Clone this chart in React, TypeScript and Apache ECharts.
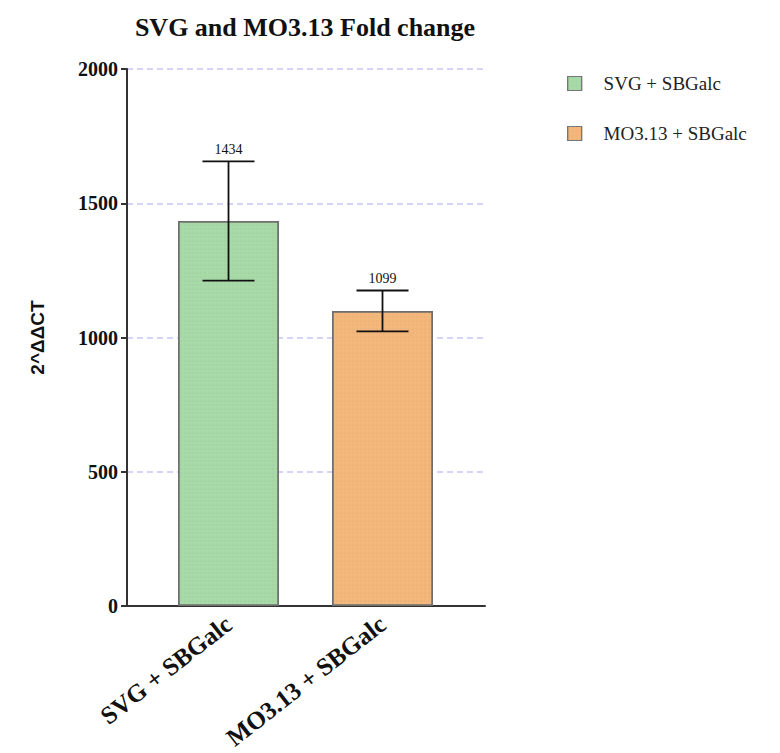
import React, { useEffect, useRef } from "react";
import * as echarts from "echarts";

const categories = ["SVG + SBGalc", "MO3.13 + SBGalc"];
const means = [1434, 1099];
const errors = [222, 76];
const barColors = ["#a8daa8", "#f3b77b"];
const yTicks = { min: 0, max: 2000, interval: 500 };
const titleText = "SVG and MO3.13 Fold change";
const yName = "2^ΔΔCT";

const SERIF = "'Liberation Serif', 'Times New Roman', serif";
const SANS = "'Liberation Sans', Arial, sans-serif";

export default function App() {
  const ref = useRef<HTMLDivElement>(null);
  useEffect(() => {
    document.body.style.margin = "0";
    const chart = echarts.init(ref.current!, null, { renderer: "svg" });
    const gridTop = 69;
    const gridHeight = 537;
    const barSeries = categories.map((name, i) => ({
      type: "bar",
      name,
      xAxisIndex: 1,
      yAxisIndex: 1,
      barWidth: 101,
      barGap: "-100%",
      data: means.map((v, j) => (j === i ? v : "-")),
      itemStyle: {
        color: barColors[i],
        borderColor: "#6f6f6f",
        borderWidth: 1.5,
        decal: {
          symbol: "circle",
          symbolSize: 0.6,
          dashArrayX: [[2, 2]],
          dashArrayY: [2, 2],
          color: "rgba(90,90,90,0.15)",
        },
      },
      z: 2,
    }));
    chart.setOption({
      animation: false,
      backgroundColor: "#ffffff",
      graphic: [
        {
          type: "text",
          x: 305,
          y: 27,
          style: {
            text: titleText,
            align: "center",
            verticalAlign: "middle",
            fontFamily: SERIF,
            fontWeight: "bold",
            fontSize: 26,
            fill: "#111",
          },
        },
      ],
      legend: {
        orient: "vertical",
        left: 562,
        top: 69,
        itemWidth: 14,
        itemHeight: 14,
        itemGap: 31,
        icon: "rect",
        data: categories,
        itemStyle: { borderColor: "#777", borderWidth: 1.2 },
        textStyle: { fontFamily: SERIF, fontSize: 19, color: "#222", padding: [0, 0, 0, 17] },
      },
      grid: [
        { left: 127, top: gridTop, width: 358, height: gridHeight, outerBoundsMode: "none", containLabel: false },
        { left: 151.5, top: gridTop, width: 308, height: gridHeight, outerBoundsMode: "none", containLabel: false },
      ],
      xAxis: [
        {
          gridIndex: 0,
          type: "value",
          min: 0,
          max: 1,
          axisLine: { show: true, lineStyle: { color: "#333", width: 2 } },
          axisTick: { show: false },
          axisLabel: { show: false },
          splitLine: { show: false },
        },
        {
          gridIndex: 1,
          type: "category",
          data: categories,
          axisLine: { show: false },
          axisTick: { show: false },
          axisLabel: {
            rotate: 38,
            margin: 15,
            fontFamily: SERIF,
            fontWeight: "bold",
            fontSize: 25,
            color: "#111",
          },
        },
      ],
      yAxis: [
        {
          gridIndex: 0,
          type: "value",
          min: yTicks.min,
          max: yTicks.max,
          interval: yTicks.interval,
          name: yName,
          nameLocation: "middle",
          nameGap: 80,
          nameTextStyle: { fontFamily: SANS, fontWeight: "bold", fontSize: 19, color: "#111" },
          axisLine: { show: true, lineStyle: { color: "#333", width: 2 } },
          axisTick: { show: true, length: 6, lineStyle: { color: "#333", width: 2 } },
          axisLabel: {
            margin: 9,
            fontFamily: SERIF,
            fontWeight: "bold",
            fontSize: 20,
            color: "#111",
            formatter: (v: number) => String(v),
          },
          splitLine: {
            show: true,
            lineStyle: { color: "#c6c6f6", type: [6, 4], width: 1.5 },
          },
        },
        {
          gridIndex: 1,
          type: "value",
          min: yTicks.min,
          max: yTicks.max,
          interval: yTicks.interval,
          show: false,
          splitLine: { show: false },
        },
      ],
      series: [
        ...barSeries,
        {
          type: "custom",
          name: "error",
          xAxisIndex: 1,
          yAxisIndex: 1,
          z: 5,
          data: categories.map((_, i) => [i, means[i], errors[i]]),
          renderItem: (params: any, api: any) => {
            const i = api.value(0);
            const m = api.value(1);
            const e = api.value(2);
            const top = api.coord([i, m + e]);
            const bot = api.coord([i, m - e]);
            const half = 26;
            const st = { stroke: "#111", lineWidth: 1.8 };
            return {
              type: "group",
              children: [
                { type: "line", shape: { x1: top[0], y1: top[1], x2: bot[0], y2: bot[1] }, style: st },
                { type: "line", shape: { x1: top[0] - half, y1: top[1], x2: top[0] + half, y2: top[1] }, style: st },
                { type: "line", shape: { x1: bot[0] - half, y1: bot[1], x2: bot[0] + half, y2: bot[1] }, style: st },
                {
                  type: "text",
                  x: top[0],
                  y: top[1] - 5,
                  style: {
                    text: String(m),
                    align: "center",
                    verticalAlign: "bottom",
                    fontFamily: SERIF,
                    fontSize: 14,
                    fill: "#111",
                  },
                },
              ],
            };
          },
        },
      ],
    });
    return () => chart.dispose();
  }, []);
  return <div ref={ref} style={{ width: 780, height: 753 }} />;
}
